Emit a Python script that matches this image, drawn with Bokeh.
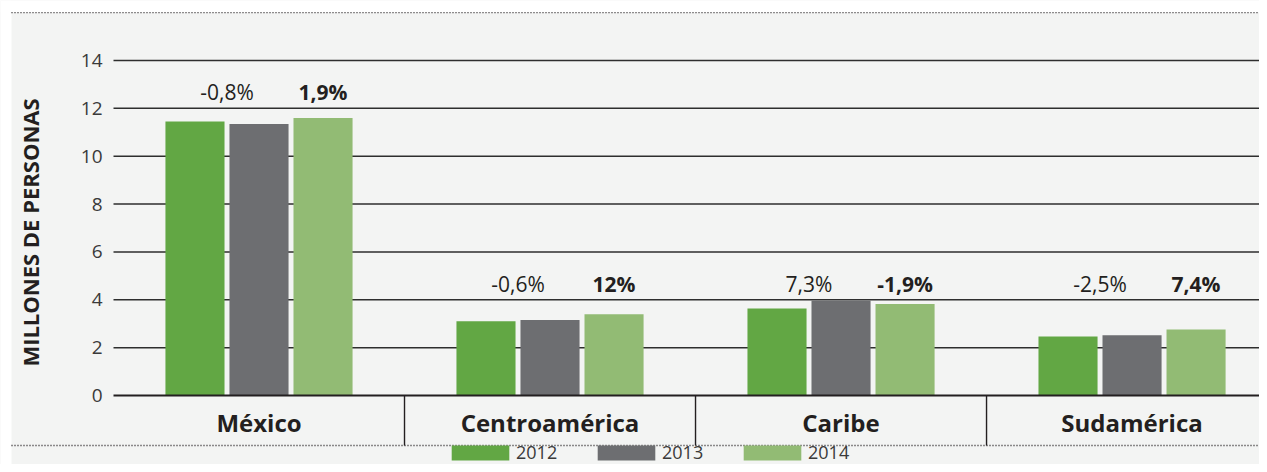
from bokeh.plotting import figure
from bokeh.models import Range1d, LinearAxis, FixedTicker, Legend, LegendItem
from bokeh.core.properties import value
from bokeh.embed import file_html
from bokeh.resources import INLINE

# ---------------- data ----------------
categories = ["México", "Centroamérica", "Caribe", "Sudamérica"]
years = ["2012", "2013", "2014"]
v2012 = [11.45, 3.10, 3.64, 2.47]
v2013 = [11.35, 3.15, 3.97, 2.52]
v2014 = [11.60, 3.40, 3.82, 2.76]
chg2013 = ["-0,8%", "-0,6%", "7,3%", "-2,5%"]
chg2014 = ["1,9%", "12%", "-1,9%", "7,4%"]
y_ticks = [0, 2, 4, 6, 8, 10, 12, 14]
y_title = "MILLONES DE PERSONAS"

# ---------------- layout / style ----------------
label_y = [12.7, 4.64, 4.64, 4.64]
colors = ["#62a744", "#6d6e71", "#92bb74"]
BG = "#f3f4f3"
INK = "#231f20"
FONT = "Open Sans"
W, H = 1259, 464
X0, X1 = -0.3883, 3.938
Y0, Y1 = -2.883, 16.506
pitch = 0.22
bar_w = 0.203
sep_bottom = -2.089
top_dots = 16.0
gray_left = -0.3505

p = figure(width=W, height=H, x_range=Range1d(X0, X1), y_range=Range1d(Y0, Y1),
           output_backend="svg", toolbar_location=None, min_border=0,
           x_axis_type=None, y_axis_type=None,
           background_fill_color=BG, border_fill_color=BG, outline_line_color=None)
p.grid.visible = False

# white page margin around the gray panel
p.quad(left=[X0, X0], right=[gray_left, X1], bottom=[Y0, top_dots], top=[Y1, Y1],
       fill_color="white", line_color=None)

n = len(categories)
centers = [i + 0.5 for i in range(n)]

# grid lines (start at x=0)
grid_ticks = [t for t in y_ticks if t != 0]
p.segment(x0=[0] * len(grid_ticks), x1=[n] * len(grid_ticks), y0=grid_ticks, y1=grid_ticks,
          line_color="#2e2e2e", line_width=1.5)

# category separators
seps = list(range(1, n))
p.segment(x0=seps, x1=seps, y0=[0] * len(seps), y1=[sep_bottom] * len(seps),
          line_color=INK, line_width=1.4)

# dotted frame lines
p.segment(x0=[gray_left, gray_left], x1=[n, n], y0=[top_dots, sep_bottom], y1=[top_dots, sep_bottom],
          line_color=INK, line_width=1.3, line_dash="1 2")

# bars
renderers = []
for k, (vals, col) in enumerate(zip([v2012, v2013, v2014], colors)):
    xs = [c + (k - 1) * pitch for c in centers]
    r = p.vbar(x=xs, top=vals, width=bar_w, bottom=0, fill_color=col, line_color=None)
    renderers.append(r)

# zero line
p.segment(x0=[0], x1=[n], y0=[0], y1=[0], line_color=INK, line_width=2)

# change labels
p.text(x=[c - 0.5 * pitch for c in centers], y=label_y, text=chg2013,
       text_align="center", text_baseline="middle", text_font=value(FONT),
       text_font_size="21px", text_color=INK)
p.text(x=[c + pitch for c in centers], y=label_y, text=chg2014,
       text_align="center", text_baseline="middle", text_font=value(FONT),
       text_font_size="21px", text_font_style="bold", text_color=INK)

# y axis
yax = LinearAxis(fixed_location=0, ticker=FixedTicker(ticks=y_ticks),
                 axis_line_color=None, major_tick_line_color=None, minor_tick_line_color=None,
                 major_label_standoff=5, major_label_text_font=FONT,
                 major_label_text_font_size="19px", major_label_text_color="#3a3a3a",
                 axis_label=y_title, axis_label_text_font=FONT,
                 axis_label_text_font_style="bold", axis_label_text_font_size="22px",
                 axis_label_text_color=INK, axis_label_standoff=33)
p.add_layout(yax, "left")

# x axis (category names)
xax = LinearAxis(fixed_location=0, ticker=FixedTicker(ticks=centers),
                 major_label_overrides={c: name for c, name in zip(centers, categories)},
                 axis_line_color=None, major_tick_line_color=None, minor_tick_line_color=None,
                 major_label_standoff=4, major_label_text_font=FONT,
                 major_label_text_font_size="24px", major_label_text_font_style="bold",
                 major_label_text_color=INK)
p.add_layout(xax, "below")

legend = Legend(items=[LegendItem(label=y, renderers=[r]) for y, r in zip(years, renderers)],
                orientation="horizontal", location=(444, 0),
                glyph_width=72, glyph_height=19, label_standoff=0, label_width=74,
                spacing=0, padding=0, margin=0, border_line_color=None,
                background_fill_alpha=0, label_text_font=FONT, label_text_font_size="18px",
                label_text_color="#3a3a3a")
p.add_layout(legend)

open("out.html", "w").write(file_html(p, INLINE))
